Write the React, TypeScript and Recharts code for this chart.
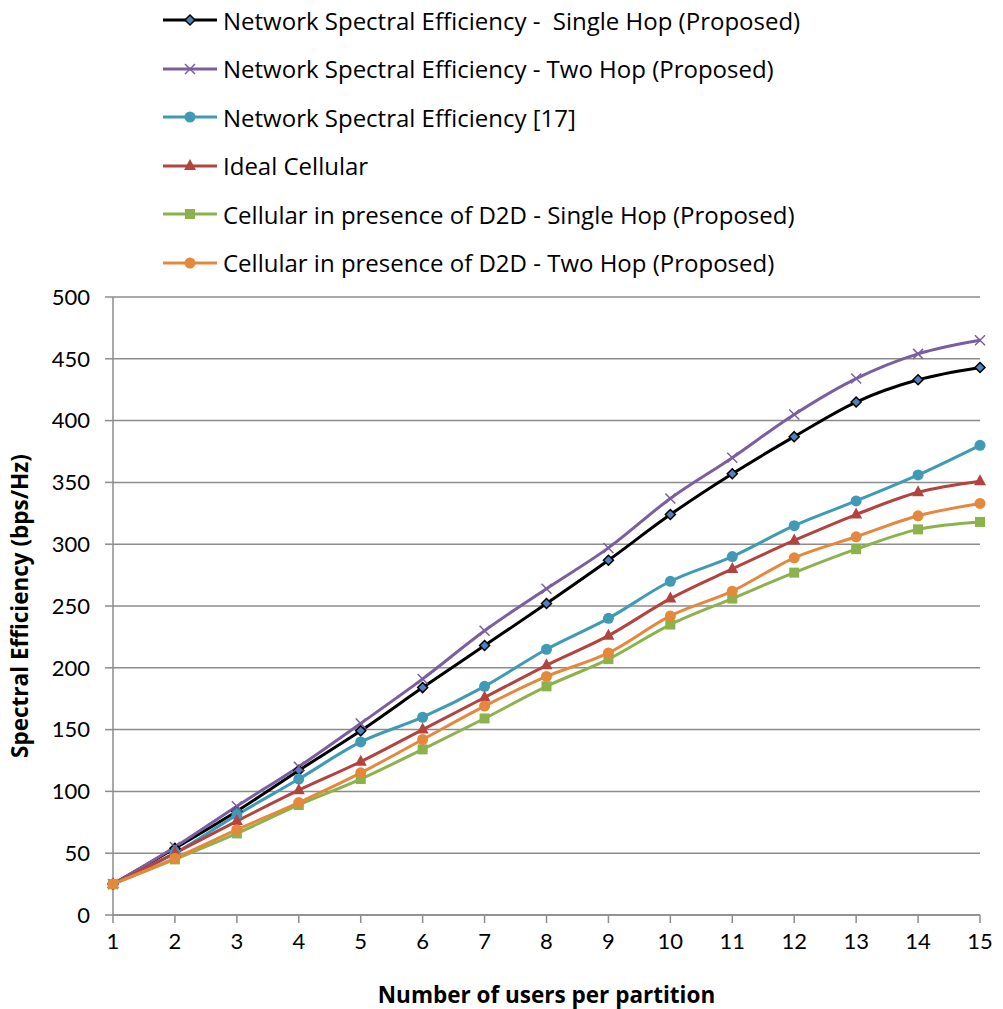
import React from 'react';
import { LineChart, Line, XAxis, YAxis, CartesianGrid } from 'recharts';

const users = [1, 2, 3, 4, 5, 6, 7, 8, 9, 10, 11, 12, 13, 14, 15];
const singleHop = [25, 54, 84, 117, 149, 184, 218, 252, 287, 324, 357, 387, 415, 433, 443];
const twoHop = [25, 55, 88, 120, 155, 191, 230, 264, 297, 337, 370, 405, 434, 454, 465];
const ref17 = [25, 50, 81, 110, 140, 160, 185, 215, 240, 270, 290, 315, 335, 356, 380];
const idealCellular = [25, 50, 76, 101, 124, 150, 176, 202, 226, 256, 280, 303, 324, 342, 351];
const cellSingle = [25, 45, 66, 89, 110, 134, 159, 185, 207, 235, 256, 277, 296, 312, 318];
const cellTwo = [25, 46, 69, 91, 115, 142, 169, 193, 212, 242, 262, 289, 306, 323, 333];
const yTicks = [0, 50, 100, 150, 200, 250, 300, 350, 400, 450, 500];

const data = users.map((u, i) => ({
  u,
  s1: singleHop[i],
  s2: twoHop[i],
  s3: ref17[i],
  s4: idealCellular[i],
  s5: cellSingle[i],
  s6: cellTwo[i],
}));

const series = [
  { key: 's1', name: 'Network Spectral Efficiency -  Single Hop (Proposed)', color: '#000000', shape: 'diamond' },
  { key: 's2', name: 'Network Spectral Efficiency - Two Hop (Proposed)', color: '#7b5ea0', shape: 'x' },
  { key: 's3', name: 'Network Spectral Efficiency [17]', color: '#3f9ab6', shape: 'circle' },
  { key: 's4', name: 'Ideal Cellular', color: '#b3433f', shape: 'triangle' },
  { key: 's5', name: 'Cellular in presence of D2D - Single Hop (Proposed)', color: '#8cb24c', shape: 'square' },
  { key: 's6', name: 'Cellular in presence of D2D - Two Hop (Proposed)', color: '#e5883c', shape: 'circle' },
];

const FONT = 'Lato, "Open Sans", sans-serif';
const TEXT_FONT = '"Open Sans", sans-serif';
const GRID = '#8c8c8c';

const Marker = ({ cx, cy, shape, color }: any) => {
  if (cx == null || cy == null) return null;
  switch (shape) {
    case 'diamond':
      return <polygon points={`${cx},${cy - 5} ${cx + 5},${cy} ${cx},${cy + 5} ${cx - 5},${cy}`} fill="#4f81bd" stroke="#000" strokeWidth={1.5} />;
    case 'x':
      return (
        <g stroke={color} strokeWidth={1.5}>
          <line x1={cx - 5} y1={cy - 5} x2={cx + 5} y2={cy + 5} />
          <line x1={cx - 5} y1={cy + 5} x2={cx + 5} y2={cy - 5} />
        </g>
      );
    case 'triangle':
      return <polygon points={`${cx},${cy - 7} ${cx + 6},${cy + 4} ${cx - 6},${cy + 4}`} fill={color} />;
    case 'square':
      return <rect x={cx - 5} y={cy - 5} width={10} height={10} fill={color} />;
    default:
      return <circle cx={cx} cy={cy} r={5.5} fill={color} />;
  }
};

const LegendBox = () => (
  <div style={{ position: 'absolute', left: 163, top: -4, fontFamily: TEXT_FONT, fontSize: 24, color: '#000' }}>
    {series.map((s) => (
      <div key={s.key} style={{ display: 'flex', alignItems: 'center', height: 48.5, whiteSpace: 'pre' }}>
        <svg width={56} height={20} style={{ marginRight: 4 }}>
          <line x1={0} y1={10} x2={54} y2={10} stroke={s.color} strokeWidth={3} />
          <Marker cx={27} cy={10} shape={s.shape} color={s.color} />
        </svg>
        <span>{s.name}</span>
      </div>
    ))}
  </div>
);

export default function App() {
  return (
    <div style={{ position: 'absolute', left: 0, top: 0, width: 1003, height: 1009, background: '#fff' }}>
      <LegendBox />
      <LineChart width={1003} height={1009} data={data} margin={{ top: 297, right: 23, bottom: 0, left: 0 }}>
        <CartesianGrid horizontal vertical={false} stroke={GRID} strokeWidth={1.5} />
        <XAxis
          dataKey="u"
          type="number"
          domain={[1, 15]}
          ticks={users}
          height={94}
          stroke={GRID}
          strokeWidth={1.5}
          tickSize={8}
          tickMargin={10}
          tick={{ fill: '#000', fontSize: 22, fontFamily: FONT }}
          label={{ value: 'Number of users per partition', position: 'insideBottom', offset: 6, fill: '#000', fontSize: 22.5, fontWeight: 'bold', fontFamily: TEXT_FONT }}
        />
        <YAxis
          type="number"
          domain={[0, 500]}
          ticks={yTicks}
          width={113}
          stroke={GRID}
          strokeWidth={1.5}
          tickSize={8}
          tickMargin={15}
          tick={{ fill: '#000', fontSize: 22, fontFamily: FONT }}
          label={{ value: 'Spectral Efficiency (bps/Hz)', angle: -90, position: 'insideLeft', offset: 20, fill: '#000', fontSize: 22.5, fontWeight: 'bold', fontFamily: TEXT_FONT, style: { textAnchor: 'middle' } }}
        />
        {series.map((s) => (
          <Line
            key={s.key}
            dataKey={s.key}
            name={s.name}
            type="monotone"
            stroke={s.color}
            strokeWidth={3}
            isAnimationActive={false}
            dot={(p: any) => <Marker key={`${s.key}-${p.index}`} cx={p.cx} cy={p.cy} shape={s.shape} color={s.color} />}
            activeDot={false}
          />
        ))}
      </LineChart>
    </div>
  );
}
